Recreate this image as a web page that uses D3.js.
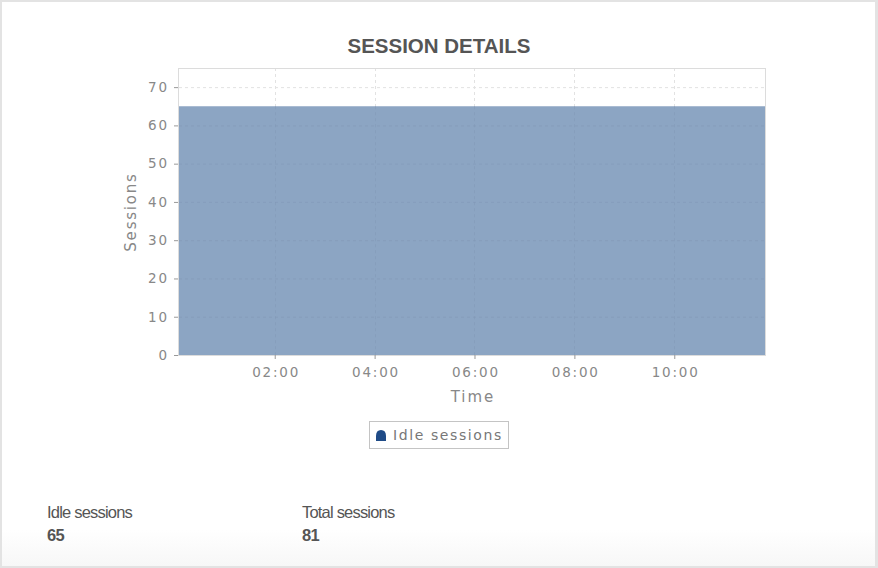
<!DOCTYPE html>
<html><head><meta charset="utf-8">
<script src="https://cdn.jsdelivr.net/npm/d3@7"></script>
<style>
html,body{margin:0;padding:0;background:#fff;}
svg{display:block;}
</style></head>
<body>
<svg id="chart" width="878" height="568"></svg>
<script>
const times = ["00:05","02:00","04:00","06:00","08:00","10:00","11:49"];
const idleSessions = [65,65,65,65,65,65,65];
const yTicks = [0,10,20,30,40,50,60,70];
const xTickLabels = ["02:00","04:00","06:00","08:00","10:00"];
const seriesName = "Idle sessions";
const statLabels = ["Idle sessions","Total sessions"];
const statValues = [65,81];

const svg = d3.select("#chart");
const W = 878, H = 568;
const parse = d3.timeParse("%H:%M");

const defs = svg.append("defs");
const grad2 = defs.append("linearGradient").attr("id","bg2").attr("x1",0).attr("x2",0).attr("y1",0).attr("y2",1);
grad2.append("stop").attr("offset","0%").attr("stop-color","#ffffff");
grad2.append("stop").attr("offset","100%").attr("stop-color","#f7f7f7");

svg.append("rect").attr("x",0).attr("y",0).attr("width",W).attr("height",H).attr("fill","#e3e3e3");
svg.append("rect").attr("x",2).attr("y",2).attr("width",W-5).attr("height",H-4).attr("fill","#fff");
svg.append("rect").attr("x",2).attr("y",530).attr("width",W-5).attr("height",H-532).attr("fill","url(#bg2)");

const m = {left:179, right:765, top:68, bottom:355};
const x = d3.scaleTime().domain([parse(times[0]), parse(times[times.length-1])]).range([m.left, m.right]);
const y = d3.scaleLinear().domain([0,75]).range([m.bottom, m.top]);

// title
svg.append("text").attr("x",439).attr("y",53).attr("text-anchor","middle")
  .attr("font-family","Liberation Sans, Arial, sans-serif").attr("font-weight","bold")
  .attr("font-size",20.5).attr("fill","#555").text("SESSION DETAILS");

const tickTimes = xTickLabels.map(parse);

// grid
const grid = svg.append("g");
grid.selectAll("line.h").data(yTicks.filter(d=>d>0)).join("line")
  .attr("x1",m.left).attr("x2",m.right).attr("y1",d=>y(d)+0.5).attr("y2",d=>y(d)+0.5)
  .attr("stroke","#e2e2e2").attr("stroke-dasharray","3,3");
grid.selectAll("line.v").data(tickTimes).join("line")
  .attr("x1",d=>Math.round(x(d))+0.5).attr("x2",d=>Math.round(x(d))+0.5).attr("y1",m.top).attr("y2",m.bottom)
  .attr("stroke","#e2e2e2").attr("stroke-dasharray","3,3");

// area
const data = times.map((t,i)=>({t:parse(t), v:idleSessions[i]}));
const area = d3.area().x(d=>x(d.t)).y0(y(0)).y1(d=>y(d.v)).curve(d3.curveStepAfter);
svg.append("path").datum(data).attr("d",area).attr("fill","#8ca5c3");

// grid over area (faint)
const grid2 = svg.append("g");
grid2.selectAll("line.h").data(yTicks.filter(d=>d>0 && d<65)).join("line")
  .attr("x1",m.left).attr("x2",m.right).attr("y1",d=>y(d)+0.5).attr("y2",d=>y(d)+0.5)
  .attr("stroke","#7f98b6").attr("stroke-opacity",0.5).attr("stroke-dasharray","3,3");
grid2.selectAll("line.v").data(tickTimes).join("line")
  .attr("x1",d=>Math.round(x(d))+0.5).attr("x2",d=>Math.round(x(d))+0.5).attr("y1",y(65)).attr("y2",m.bottom)
  .attr("stroke","#7f98b6").attr("stroke-opacity",0.5).attr("stroke-dasharray","3,3");

// plot border
svg.append("rect").attr("x",m.left-0.5).attr("y",m.top+0.5).attr("width",m.right-m.left+1).attr("height",m.bottom-m.top)
  .attr("fill","none").attr("stroke","#dcdcdc");

// axes
const tickFont = "DejaVu Sans, Verdana, sans-serif";
const ls = 1.8;
const yAxis = svg.append("g").attr("transform",`translate(${m.left-1},0)`)
  .call(d3.axisLeft(y).tickValues(yTicks).tickSize(4).tickPadding(7));
yAxis.select(".domain").remove();
yAxis.selectAll("line").attr("stroke","#999");
yAxis.selectAll("text").attr("font-family",tickFont).attr("font-size",13.5).attr("fill","#888")
  .attr("letter-spacing",ls+"px").attr("dx",(ls)+"px");

const xAxis = svg.append("g").attr("transform",`translate(0,${m.bottom})`)
  .call(d3.axisBottom(x).tickValues(tickTimes).tickFormat(d3.timeFormat("%H:%M")).tickSize(4).tickPadding(8));
xAxis.select(".domain").remove();
xAxis.selectAll("line").attr("stroke","#999");
xAxis.selectAll("text").attr("font-family",tickFont).attr("font-size",13.5).attr("fill","#888")
  .attr("letter-spacing",ls+"px").attr("dx",(ls/2)+"px");

// axis titles
svg.append("text").attr("transform",`translate(136,212) rotate(-90)`).attr("text-anchor","middle")
  .attr("font-family",tickFont).attr("font-size",15).attr("fill","#888").attr("letter-spacing","1.8px").text("Sessions");
svg.append("text").attr("x",473).attr("y",402).attr("text-anchor","middle")
  .attr("font-family",tickFont).attr("font-size",15).attr("fill","#888").attr("letter-spacing","2px").text("Time");

// legend
const lg = svg.append("g");
lg.append("rect").attr("x",369.5).attr("y",421.5).attr("width",139).attr("height",27).attr("fill","#fff").attr("stroke","#c4c4c4");
lg.append("path").attr("d","M376,441 L376,436 Q376,430 381,430 Q386,430 386,436 L386,441 Z").attr("fill","#1f4b87");
lg.append("text").attr("x",393).attr("y",440).attr("font-family",tickFont).attr("font-size",14).attr("fill","#777").attr("letter-spacing","1.6px").text(seriesName);

// stats
const statX = [47,302];
statLabels.forEach((lab,i)=>{
  svg.append("text").attr("x",statX[i]).attr("y",518).attr("font-family","Liberation Sans, Arial, sans-serif")
    .attr("font-size",16.5).attr("letter-spacing","-0.8px").attr("fill","#555").text(lab);
  svg.append("text").attr("x",statX[i]).attr("y",541).attr("font-family","Liberation Sans, Arial, sans-serif")
    .attr("font-size",16.5).attr("font-weight","bold").attr("letter-spacing","-0.6px").attr("fill","#555").text(statValues[i]);
});
</script>
</body></html>
